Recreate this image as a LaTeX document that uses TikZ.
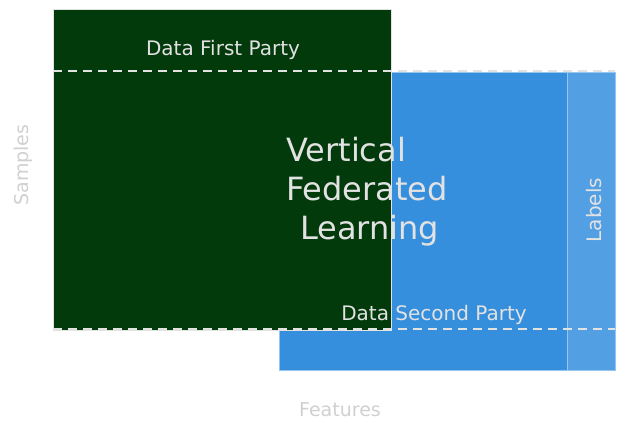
\documentclass[tikz,border=0pt]{standalone}
\usepackage{fontspec}
\setmainfont{DejaVu Sans}
\usetikzlibrary{calc}
\definecolor{partyone}{HTML}{033A0C}
\definecolor{partytwo}{HTML}{368FDD}
\definecolor{labelcol}{HTML}{529FE3}
\definecolor{chalk}{HTML}{E2E2E2}
\definecolor{axisgray}{HTML}{D0D0D0}
\begin{document}
\begin{tikzpicture}[x=1pt, y=-1pt,
        box_style/.style={draw=chalk, line width=1pt},
        split_style/.style={draw=chalk, line width=2pt, dash pattern=on 9pt off 6pt},
        text_style/.style={text=chalk, font=\fontsize{20}{24}\selectfont, inner sep=0pt},
        title_style/.style={text=chalk, font=\fontsize{32}{39}\selectfont, align=left, inner sep=0pt},
        axis_style/.style={text=axisgray, font=\fontsize{19}{23}\selectfont, inner sep=0pt}]

        \useasboundingbox (0,0) rectangle (627,433);

        \fill [partytwo] (279,72) rectangle (567,370);
        \fill [labelcol] (567,72) rectangle (615,370);
        \draw [draw=labelcol!60!white, line width=0.8pt] (279,72) rectangle (615,370);
        \draw [draw=labelcol!60!white, line width=0.8pt] (567,72) -- (567,370);

        \fill [partyone] (53,10) rectangle (391,330);
        \draw [box_style] (53,10) rectangle (391,330);

        \coordinate (top_l) at (53,71);
        \coordinate (top_r) at (615,71);
        \coordinate (bot_l) at (53,329);
        \coordinate (bot_r) at (615,329);
        \draw [split_style] (top_l) -- (top_r);
        \draw [split_style] (bot_l) -- (bot_r);

        \node [text_style](first) at (223,50) {Data First Party};

        \node [text_style](second) at (434,315) {Data Second Party};

        \node [title_style, anchor=west](vfl) at (286,192) {Vertical\\Federated\\\hspace*{14pt}Learning};

        \node [text_style, rotate=90](labels) at (594,210) {Labels};

        \node [axis_style, rotate=90](samples) at (23,165) {Samples};

        \node [axis_style](features) at (340,410) {Features};

        \end{tikzpicture}
\end{document}
